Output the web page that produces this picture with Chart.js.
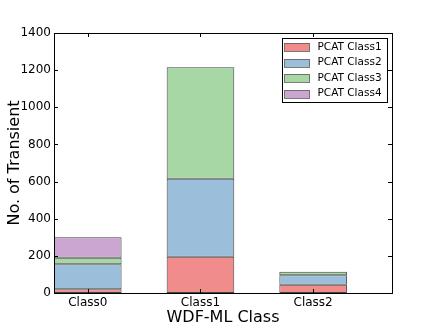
<!DOCTYPE html>
<html>
<head>
<meta charset="utf-8">
<script src="https://cdn.jsdelivr.net/npm/chart.js@4.4.1/dist/chart.umd.min.js"></script>
<style>
html, body { margin: 0; padding: 0; background: #fff; }
#wrap { width: 436px; height: 327px; }
</style>
</head>
<body>
<div id="wrap"><canvas id="chart"></canvas></div>
<script>
// WDF-ML class vs PCAT class counts
var categories = ['Class0', 'Class1', 'Class2'];
var seriesNames = ['PCAT Class1', 'PCAT Class2', 'PCAT Class3', 'PCAT Class4'];
var pcat1 = [20, 195, 45];
var pcat2 = [135, 420, 50];
var pcat3 = [35, 600, 20];
var pcat4 = [110, 0, 0];
var yTicks = [0, 200, 400, 600, 800, 1000, 1200, 1400];

var fills = ['rgb(241,140,141)', 'rgb(155,190,219)', 'rgb(166,215,164)', 'rgb(203,166,209)'];
var edge = 'rgba(30,35,35,0.85)';
var FONT = 'DejaVu Sans';

function points(arr) {
	return arr.map(function(v, i) { return { x: i, y: v }; });
}

var allSeries = [pcat1, pcat2, pcat3, pcat4];
var datasets = allSeries.map(function(s, i) {
	return {
		label: seriesNames[i],
		data: points(s),
		backgroundColor: fills[i],
		borderColor: edge,
		borderWidth: 1,
		borderSkipped: false
	};
});

// matplotlib-like frame, inward ticks and boxed legend
var framePlugin = {
	id: 'frame',
	afterDatasetsDraw: function(chart) {
		var ctx = chart.ctx, a = chart.chartArea;
		var xs = chart.scales.x, ys = chart.scales.y;
		ctx.save();
		ctx.strokeStyle = '#000';
		ctx.lineWidth = 1;
		ctx.strokeRect(Math.round(a.left) + 0.5, Math.round(a.top) + 0.5,
			Math.round(a.right - a.left), Math.round(a.bottom - a.top));
		ctx.beginPath();
		xs.ticks.forEach(function(t) {
			var px = Math.round(xs.getPixelForValue(t.value)) + 0.5;
			ctx.moveTo(px, a.bottom); ctx.lineTo(px, a.bottom - 4);
			ctx.moveTo(px, a.top); ctx.lineTo(px, a.top + 4);
		});
		ys.ticks.forEach(function(t) {
			var py = Math.round(ys.getPixelForValue(t.value)) + 0.5;
			ctx.moveTo(a.left, py); ctx.lineTo(a.left + 4, py);
			ctx.moveTo(a.right, py); ctx.lineTo(a.right - 4, py);
		});
		ctx.stroke();

		// legend box
		var bw = 105, bh = 64;
		var bx = Math.round(a.right - 5 - bw) + 0.5, by = Math.round(a.top + 5) + 0.5;
		ctx.fillStyle = '#fff';
		ctx.fillRect(bx, by, bw, bh);
		ctx.strokeStyle = '#000';
		ctx.strokeRect(bx, by, bw, bh);
		ctx.font = '10.5px "' + FONT + '"';
		ctx.textBaseline = 'middle';
		chart.data.datasets.forEach(function(ds, i) {
			var cy = by + 8.5 + i * 15.5;
			ctx.fillStyle = ds.backgroundColor;
			ctx.fillRect(bx + 2, Math.round(cy - 4), 25, 8);
			ctx.strokeStyle = 'rgba(90,90,90,0.8)';
			ctx.strokeRect(bx + 2, Math.round(cy - 4) + 0.5, 25, 8);
			ctx.fillStyle = '#000';
			ctx.fillText(ds.label, bx + 35, cy);
		});
		ctx.restore();
	}
};

window.onload = function() {
	var ctx = document.getElementById('chart').getContext('2d');
	window.myBar = new Chart(ctx, {
		type: 'bar',
		data: { datasets: datasets },
		plugins: [framePlugin],
		options: {
			responsive: true,
			maintainAspectRatio: false,
			animation: false,
			categoryPercentage: 0.6,
			barPercentage: 1.0,
			layout: { padding: { top: 33, right: 44, left: 0, bottom: 0 } },
			plugins: {
				legend: { display: false },
				tooltip: { enabled: false }
			},
			scales: {
				x: {
					type: 'linear',
					stacked: true,
					offset: false,
					min: -0.3,
					max: 2.7,
					afterBuildTicks: function(scale) {
						scale.ticks = categories.map(function(c, i) { return { value: i }; });
					},
					afterFit: function(scale) { scale.height = 34; },
					grid: { display: false, drawTicks: false, tickLength: 0 },
					border: { display: false },
					ticks: {
						padding: 3,
						color: '#000',
						font: { family: FONT, size: 12 },
						callback: function(v) { return categories[v]; }
					},
					title: {
						display: true,
						text: 'WDF-ML Class',
						color: '#000',
						font: { family: FONT, size: 16 },
						padding: { top: 0, bottom: 0 }
					}
				},
				y: {
					stacked: true,
					min: 0,
					max: 1400,
					afterBuildTicks: function(scale) {
						scale.ticks = yTicks.map(function(v) { return { value: v }; });
					},
					afterFit: function(scale) { scale.width = 54; },
					grid: { display: false, drawTicks: false, tickLength: 0 },
					border: { display: false },
					ticks: {
						padding: 3,
						color: '#000',
						font: { family: FONT, size: 12 },
						callback: function(v) { return String(v); }
					},
					title: {
						display: true,
						text: 'No. of Transient',
						color: '#000',
						font: { family: FONT, size: 16 },
						padding: { top: 5, bottom: 0 }
					}
				}
			}
		}
	});
};
</script>
</body>
</html>
